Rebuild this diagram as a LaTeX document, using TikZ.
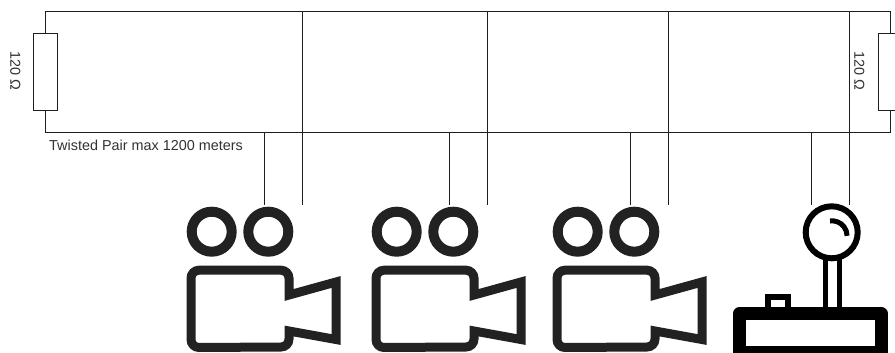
\documentclass[tikz,border=0pt]{standalone}
\usepackage{fontspec}
\setmainfont{Liberation Sans}
\definecolor{wire}{HTML}{1E1E1E}
\definecolor{label}{HTML}{333333}
\definecolor{icon}{HTML}{222222}
\tikzset{
  wireline/.style={draw=wire,line width=1pt},
  resistor/.style={draw=wire,line width=1pt,fill=white,rectangle,minimum width=24.5pt,minimum height=77pt,inner sep=0pt},
  lbl/.style={text=label,font=\fontsize{14.4}{16}\selectfont,inner sep=0pt},
  iconline/.style={draw=icon,line join=round},
  joyline/.style={draw=black},
  camera/.pic={
    \draw[iconline,line width=10pt] (211.7,231.7) circle[radius=20];
    \draw[iconline,line width=10pt] (268.3,231.7) circle[radius=20];
    \draw[iconline,line width=9pt,line join=miter,miter limit=6]
      (199,270.2) -- (281,270.2) arc[start angle=-90,end angle=0,radius=8] -- (289,295)
      -- (336,282) -- (336,339.5) -- (289,331) -- (289,339) arc[start angle=0,end angle=90,radius=8]
      -- (199,347.5) arc[start angle=90,end angle=180,radius=8] -- (191,278.2)
      arc[start angle=180,end angle=270,radius=8] -- cycle;
  }
}
\begin{document}
\begin{tikzpicture}[x=1pt,y=-1pt]
\useasboundingbox (0,0) rectangle (895,353);
\clip (0,0) rectangle (895,353);
\fill[white] (0,0) rectangle (895,353);
% bus corners and taps
\coordinate (tl) at (45.5,11.5);
\coordinate (tr) at (890.5,11.5);
\coordinate (bl) at (45.5,132);
\coordinate (br) at (890.5,132);
\coordinate (a1) at (302.5,11.5); \coordinate (a1e) at (302.5,204.5);
\coordinate (a2) at (487.5,11.5); \coordinate (a2e) at (487.5,204.5);
\coordinate (a3) at (668.5,11.5); \coordinate (a3e) at (668.5,204.5);
\coordinate (a4) at (849.5,11.5); \coordinate (a4e) at (849.5,204.5);
\coordinate (b1) at (264,132); \coordinate (b1e) at (264,204.5);
\coordinate (b2) at (449,132); \coordinate (b2e) at (449,204.5);
\coordinate (b3) at (630,132); \coordinate (b3e) at (630,204.5);
\coordinate (b4) at (811,132); \coordinate (b4e) at (811,204.5);
\draw[wireline] (bl) -- (tl) -- (tr) -- (br) -- cycle;
\foreach \n in {1,2,3,4} {
  \draw[wireline] (a\n) -- (a\n e);
  \draw[wireline] (b\n) -- (b\n e);
}
\node[resistor] (rl) at (45.7,71.8) {};
\node[resistor] (rr) at (890.5,71.8) {};
\node[lbl,rotate=-90] (tl1) at (15.3,71) {120 Ω};
\node[lbl,rotate=-90] (tl2) at (859.3,71) {120 Ω};
\node[lbl,anchor=west] (tw) at (49,145) {Twisted Pair max 1200 meters};
% cameras
\pic at (0,0) {camera};
\pic at (185,0) {camera};
\pic at (366,0) {camera};
% joystick
\draw[joyline,line width=6pt] (831.7,232.3) circle[radius=26];
\draw[joyline,line width=5pt] (830,221) arc[start angle=-98,end angle=0,radius=15];
\draw[joyline,line width=5.5pt] (825.7,257) -- (825.7,308);
\draw[joyline,line width=5.5pt] (839.3,257) -- (839.3,308);
\draw[joyline,line width=6pt] (768,308) -- (768,297) -- (788,297) -- (788,308);
\draw[joyline,line join=round,line width=13pt] (739.5,313.5) -- (881,313.5) -- (881,352.2) -- (739.5,352.2) -- cycle;
\end{tikzpicture}
\end{document}
